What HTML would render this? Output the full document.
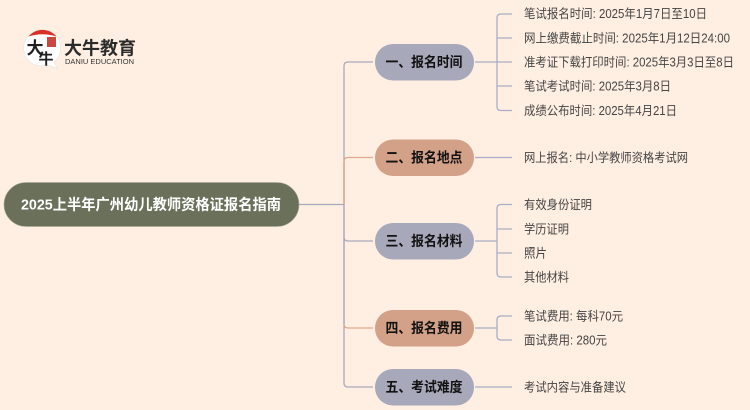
<!DOCTYPE html>
<html><head><meta charset="utf-8"><style>
html,body{margin:0;padding:0;background:#ffefe2;width:750px;height:410px;overflow:hidden}
svg{display:block}
text{font-family:"Liberation Sans","Noto Sans CJK SC",sans-serif}
.l{font-size:12.5px;fill:#444}
.n{font-size:14px;font-weight:700;fill:#111;text-anchor:middle}
</style></head><body>
<svg width="750" height="410" viewBox="0 0 750 410" xmlns="http://www.w3.org/2000/svg">
<rect width="750" height="410" fill="#ffefe2"/>
<!-- logo -->
<path d="M42.500 30a18 18 0 0 1 11.500 32l3.500 6.500-10-3.500A18 18 0 1 1 42.500 30z" fill="#fff" stroke="#ddd" stroke-width=".5"/>
<path d="M28.500 36.500a18 18 0 0 1 28 0 36 28 0 0 0-28 0z" fill="#d92f27"/>
<rect x="47" y="37" width="9" height="10" fill="#c9473e"/>
<text x="35" y="54" font-size="17" font-weight="700" fill="#1f1f1f" text-anchor="middle">大</text>
<text x="46" y="64" font-size="15" font-weight="700" fill="#1f1f1f" text-anchor="middle">牛</text>
<text x="64" y="54.500" font-size="18" font-weight="700" fill="#2b2b2b" textLength="72" lengthAdjust="spacingAndGlyphs">大牛教育</text>
<text x="65" y="64" font-size="7.500" fill="#333" textLength="69" lengthAdjust="spacingAndGlyphs">DANIU EDUCATION</text>
<!-- trunk connectors -->
<g fill="none" stroke-width="1.300">
<path d="M299 204.500H344M344 204.500V66q0-4 4-4H373M344 204.500V383q0 4 4 4H373M344 237q0 4 4 4H373" stroke="#a9a9bd"/>
<path d="M344 204.500V161.500q0-4 4-4H373M344 324q0 4 4 4H373" stroke="#e0a98b"/>
<path d="M344 204V324" stroke="#a9a9bd"/>
<path d="M344 162V204" stroke="#e0a98b"/>
<!-- group 1 -->
<path d="M475 62H512M497 62V18q0-4 4-4H512M497 38H512M497 86H512M497 62V106.500q0 4 4 4H512" stroke="#a9adc6"/>
<!-- group 2 -->
<path d="M475 157.500H512" stroke="#a9adc6"/>
<!-- group 3 -->
<path d="M475 241H497M497 241V208.500q0-4 4-4H512M497 229H512M497 253H512M497 241V273q0 4 4 4H512" stroke="#a9adc6"/>
<!-- group 4 -->
<path d="M475 328H497M497 328V320q0-4 4-4H512M497 328V336q0 4 4 4H512" stroke="#a9adc6"/>
<!-- group 5 -->
<path d="M475 387H512" stroke="#a9adc6"/>
</g>
<!-- root -->
<rect x="4" y="182.500" width="295" height="44" rx="22" fill="#6b705a" stroke="#a8a994" stroke-width=".6"/>
<text x="21" y="209.500" font-size="15" font-weight="700" fill="#fff" textLength="260" lengthAdjust="spacingAndGlyphs">2025上半年广州幼儿教师资格证报名指南</text>
<!-- nodes -->
<rect x="375" y="44" width="99" height="36.500" rx="18" fill="#a8a8bb"/>
<rect x="375" y="139.500" width="99" height="36.500" rx="18" fill="#d3a187"/>
<rect x="375" y="223" width="99" height="36.500" rx="18" fill="#a8a8bb"/>
<rect x="375" y="310" width="99" height="36.500" rx="18" fill="#d3a187"/>
<rect x="375" y="369" width="99" height="36.500" rx="18" fill="#a8a8bb"/>
<text class="n" x="424" y="67" textLength="77" lengthAdjust="spacingAndGlyphs">一、报名时间</text>
<text class="n" x="424" y="162.500" textLength="77" lengthAdjust="spacingAndGlyphs">二、报名地点</text>
<text class="n" x="424" y="246" textLength="77" lengthAdjust="spacingAndGlyphs">三、报名材料</text>
<text class="n" x="424" y="333" textLength="77" lengthAdjust="spacingAndGlyphs">四、报名费用</text>
<text class="n" x="424" y="392" textLength="77" lengthAdjust="spacingAndGlyphs">五、考试难度</text>
<!-- leaves -->
<text class="l" x="524" y="18" textLength="183" lengthAdjust="spacingAndGlyphs">笔试报名时间: 2025年1月7日至10日</text>
<text class="l" x="524" y="42.500" textLength="206" lengthAdjust="spacingAndGlyphs">网上缴费截止时间: 2025年1月12日24:00</text>
<text class="l" x="524" y="66.500" textLength="210" lengthAdjust="spacingAndGlyphs">准考证下载打印时间: 2025年3月3日至8日</text>
<text class="l" x="524" y="90.500" textLength="147" lengthAdjust="spacingAndGlyphs">笔试考试时间: 2025年3月8日</text>
<text class="l" x="524" y="115" textLength="153" lengthAdjust="spacingAndGlyphs">成绩公布时间: 2025年4月21日</text>
<text class="l" x="524" y="162" textLength="164" lengthAdjust="spacingAndGlyphs">网上报名: 中小学教师资格考试网</text>
<text class="l" x="524" y="209" textLength="68" lengthAdjust="spacingAndGlyphs">有效身份证明</text>
<text class="l" x="524" y="233.500" textLength="45" lengthAdjust="spacingAndGlyphs">学历证明</text>
<text class="l" x="524" y="257.500" textLength="23" lengthAdjust="spacingAndGlyphs">照片</text>
<text class="l" x="524" y="281.500" textLength="45" lengthAdjust="spacingAndGlyphs">其他材料</text>
<text class="l" x="524" y="320.500" textLength="99" lengthAdjust="spacingAndGlyphs">笔试费用: 每科70元</text>
<text class="l" x="524" y="344.500" textLength="83" lengthAdjust="spacingAndGlyphs">面试费用: 280元</text>
<text class="l" x="524" y="391.500" textLength="102" lengthAdjust="spacingAndGlyphs">考试内容与准备建议</text>
</svg>
</body></html>
